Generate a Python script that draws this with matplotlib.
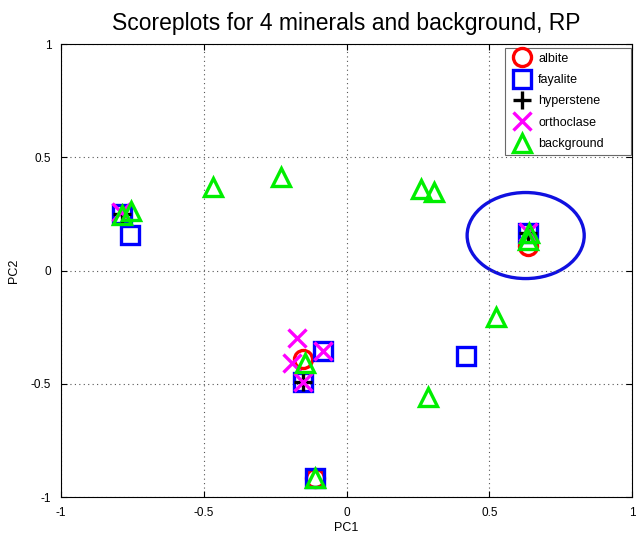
import matplotlib
matplotlib.use("Agg")
import matplotlib.pyplot as plt
from matplotlib.patches import Ellipse

plt.rcParams['font.family'] = ['Liberation Sans', 'DejaVu Sans']

# PCA scores (PC1, PC2) per mineral class
albite_pc1 = [-0.154, -0.112, 0.634]
albite_pc2 = [-0.389, -0.915, 0.110]

fayalite_pc1 = [-0.788, -0.757, -0.084, -0.151, -0.112, 0.634, 0.417]
fayalite_pc2 = [0.252, 0.159, -0.353, -0.494, -0.918, 0.168, -0.375]

hyperstene_pc1 = [-0.788, -0.151, 0.634]
hyperstene_pc2 = [0.252, -0.494, 0.165]

orthoclase_pc1 = [-0.790, -0.175, -0.193, -0.084, -0.151, 0.634]
orthoclase_pc2 = [0.260, -0.296, -0.406, -0.353, -0.494, 0.170]

background_pc1 = [-0.785, -0.755, -0.469, -0.231, 0.259, 0.305, 0.637, 0.634, 0.522, 0.284, -0.147, -0.109]
background_pc2 = [0.245, 0.265, 0.371, 0.415, 0.362, 0.349, 0.168, 0.135, -0.203, -0.556, -0.406, -0.914]

# highlighted region
region_center = (0.627, 0.155)
region_width = 0.41
region_height = 0.38

fig = plt.figure(figsize=(6.36, 5.33), dpi=100)
ax = fig.add_axes([0.096, 0.0675, 0.898, 0.8495])

ms = 13
mew = 2.4
ax.plot(albite_pc1, albite_pc2, 'o', ls='none', color='red', mfc='none', ms=ms, mew=mew, label='albite')
ax.plot(fayalite_pc1, fayalite_pc2, 's', ls='none', color='blue', mfc='none', ms=ms, mew=mew, label='fayalite')
ax.plot(hyperstene_pc1, hyperstene_pc2, '+', ls='none', color='black', ms=ms, mew=mew, label='hyperstene')
ax.plot(orthoclase_pc1, orthoclase_pc2, 'x', ls='none', color='magenta', ms=ms, mew=mew, label='orthoclase')
ax.plot(background_pc1, background_pc2, '^', ls='none', color='#00ee00', mfc='none', ms=ms, mew=mew, label='background')

ax.add_patch(Ellipse(region_center, region_width, region_height, fill=False,
                     edgecolor='#1010e0', linewidth=2.4))

ax.set_xlim(-1, 1)
ax.set_ylim(-1, 1)
ax.set_xticks([-1, -0.5, 0, 0.5, 1])
ax.set_yticks([-1, -0.5, 0, 0.5, 1])
ax.set_xticklabels(['-1', '-0.5', '0', '0.5', '1'])
ax.set_yticklabels(['-1', '-0.5', '0', '0.5', '1'])
ax.tick_params(direction='in', labelsize=8.5, top=True, right=True, length=4)
ax.tick_params(axis='x', pad=7)
ax.tick_params(axis='y', pad=7)
ax.grid(True, linestyle=(0, (1, 3)), color='#555555', linewidth=0.8)
for s in ax.spines.values():
    s.set_linewidth(0.8)

ax.set_xlabel('PC1', fontsize=9, labelpad=2)
ax.set_ylabel('PC2', fontsize=9, labelpad=8)
ax.set_title('Scoreplots for 4 minerals and background, RP', fontsize=16.5, pad=10)

leg = ax.legend(loc='upper right', bbox_to_anchor=(0.7776, 0.0, 0.2204, 0.991),
                mode='expand', fontsize=9, frameon=True, fancybox=False,
                edgecolor='#444444', borderaxespad=0.0, handletextpad=0.3,
                labelspacing=0.75, handlelength=2.0, borderpad=0.35)
leg.get_frame().set_linewidth(0.8)

fig.savefig('out.png', dpi=100)
